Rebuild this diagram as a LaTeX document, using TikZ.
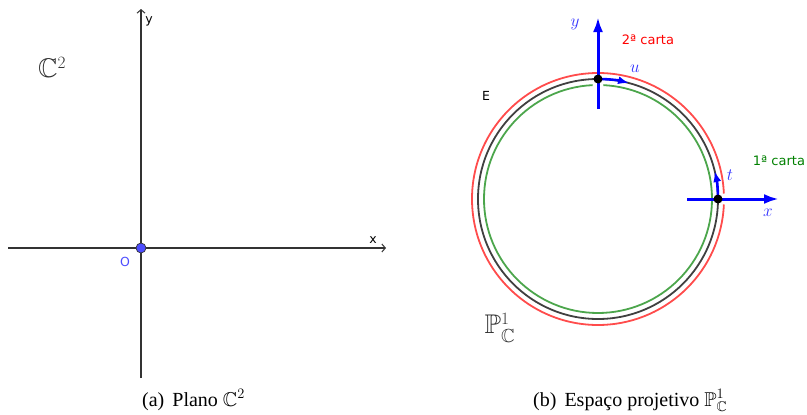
\documentclass[tikz,border=0pt]{standalone}
\usepackage{amssymb}
\usepackage{fontspec}
\setmainfont{Liberation Serif}
\setsansfont{DejaVu Sans}
\usetikzlibrary{arrows.meta}
\definecolor{axgray}{HTML}{333333}
\definecolor{ggblue}{HTML}{4D4DFF}
\definecolor{lblblue}{HTML}{3333FF}
\definecolor{ggred}{HTML}{FF4C4C}
\definecolor{gggreen}{HTML}{4CA64C}
\definecolor{txtgreen}{HTML}{008000}
\definecolor{txtred}{HTML}{FF0000}
\definecolor{circblack}{HTML}{404040}
\tikzset{
  axisline/.style={draw=axgray, line width=1.3pt, -{Straight Barb[length=3.5pt,width=8pt,line width=1pt]}},
  plainaxis/.style={draw=axgray, line width=1.3pt},
  ggtext/.style={font=\sffamily\fontsize{12.5}{12.5}\selectfont, inner sep=0pt},
  mathlbl/.style={text=lblblue, font=\fontsize{17}{17}\selectfont, inner sep=0pt},
  bigarrow/.style={draw=blue, line width=3pt, -{Latex[length=15pt,width=10pt]}},
  smallarrow/.style={draw=blue, line width=2.6pt, -{Latex[length=11pt,width=8pt]}},
  bluedot/.style={circle, fill=ggblue, draw=axgray, line width=0.7pt, minimum size=10pt, inner sep=0pt},
  blackdot/.style={circle, fill=black, minimum size=9pt, inner sep=0pt},
  caption/.style={font=\fontsize{20}{20}\selectfont, inner sep=0pt},
}
\begin{document}
\begin{tikzpicture}[x=1pt,y=-1pt]
\useasboundingbox (0,0) rectangle (807,415);

% ---------- left panel: plane C^2 ----------
\coordinate (ytop) at (141,9);
\coordinate (ybot) at (141,378);
\coordinate (xleft) at (8,248);
\coordinate (xright) at (386,248);
\draw[plainaxis] (ybot) -- (141,248);
\draw[axisline] (141,248) -- (ytop);
\draw[plainaxis] (xleft) -- (141,248);
\draw[axisline] (141,248) -- (xright);
\node[bluedot] (origin) at (141,248) {};
\node[ggtext, text=ggblue] (olbl) at (125,262) {O};
\node[ggtext] (ylbl) at (149,21) {y};
\node[ggtext] (xlbl) at (373,240) {x};
\node[inner sep=0pt, text=axgray, font=\fontsize{27}{27}\selectfont] (c2) at (52,67) {$\mathbb{C}^2$};

% ---------- right panel: projective line ----------
\coordinate (C) at (598,199);
\draw[ggred, line width=1.8pt] ([shift={(2.5:126pt)}]C) arc[start angle=2.5, end angle=357.5, radius=126pt];
\draw[circblack, line width=1.8pt] (C) circle[radius=120pt];
\draw[gggreen, line width=1.8pt] ([shift={(92.7:114pt)}]C) arc[start angle=92.7, end angle=447.3, radius=114pt];

\coordinate (ptop) at (598,79);
\coordinate (pright) at (718,199);
\coordinate (vbot) at (598,109);
\coordinate (vtop) at (598,17);
\coordinate (hleft) at (687,199);
\coordinate (hright) at (779,199);
\draw[bigarrow] (vbot) -- (vtop);
\draw[bigarrow] (hleft) -- (hright);
\draw[smallarrow] (ptop) arc[start angle=90, end angle=75, radius=120pt];
\draw[smallarrow] (pright) arc[start angle=0, end angle=13.5, radius=120pt];
\node[blackdot] (dtop) at (ptop) {};
\node[blackdot] (dright) at (pright) {};

\node[mathlbl] (ylab) at (575,24) {$y$};
\node[mathlbl] (ulab) at (635,69) {$u$};
\node[mathlbl] (tlab) at (730,175) {$t$};
\node[mathlbl] (xlab) at (768,213) {$x$};
\node[ggtext, text=txtred, font=\sffamily\fontsize{13}{13}\selectfont] (carta2) at (648,40) {2ª carta};
\node[ggtext, text=txtgreen, font=\sffamily\fontsize{13}{13}\selectfont] (carta1) at (779,161) {1ª carta};
\node[ggtext, text=black] (elbl) at (486,96) {E};
\node[inner sep=0pt, text=axgray, font=\fontsize{27}{27}\selectfont] (p1) at (500,328) {$\mathbb{P}^1_{\mathbb{C}}$};

% ---------- captions ----------
\node[caption, anchor=base west] (capa) at (142,406) {(a)\hspace{0.4em}Plano $\mathbb{C}^2$};
\node[caption, anchor=base west] (capb) at (533,406) {(b)\hspace{0.4em}Espaço projetivo $\mathbb{P}^1_{\mathbb{C}}$};
\end{tikzpicture}
\end{document}
